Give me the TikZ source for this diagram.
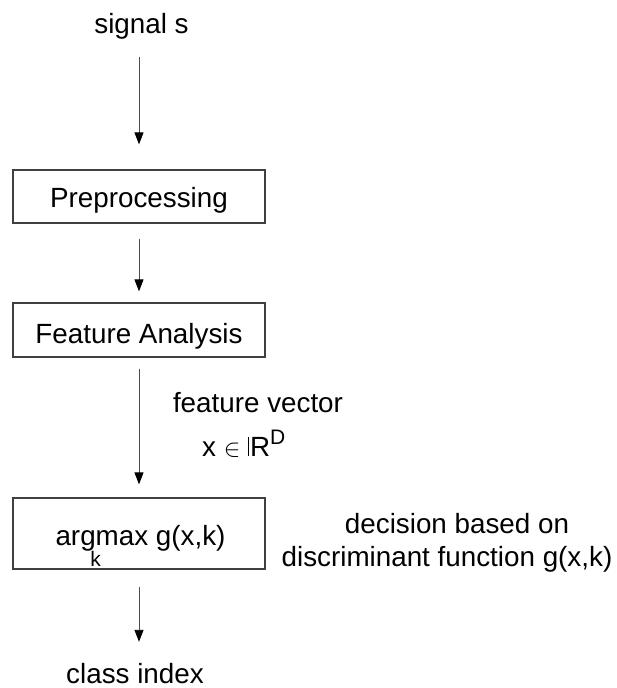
\documentclass[tikz,border=0pt]{standalone}
\usepackage{fontspec}
\setmainfont{Liberation Sans}
\usetikzlibrary{arrows.meta}
\begin{document}
\begin{tikzpicture}[x=1pt,y=-1pt,
  box/.style={draw=black!75, line width=1.2pt, minimum width=252pt, inner sep=0pt,
    font=\fontsize{27.8}{32}\selectfont},
  lbl/.style={inner sep=0pt, font=\fontsize{27.8}{32}\selectfont, anchor=base,
    text height=20pt, text depth=6pt},
  flow/.style={line width=0.9pt, draw=black!70,
    -{Triangle[length=12pt,width=9pt,fill=black,color=black]}}]
\useasboundingbox (0,0) rectangle (617,688);
% text nodes
\node[lbl] (sig) at (141.5,33) {signal s};
\node[lbl] (cls) at (135,683) {class index};
\node[lbl] (fv) at (258,412) {feature vector};
\node[lbl, anchor=base west] (xr) at (202,456)
  {x {\fontsize{27}{27}\selectfont$\in$} \vrule width 0.7pt height 19.5pt depth 0pt\kern1.2pt R\raisebox{12pt}{\fontsize{21}{21}\selectfont D}};
\node[lbl] (dec1) at (457,533) {decision based on};
\node[lbl] (dec2) at (447,566) {discriminant function g(x,k)};
% boxes
\node[box, minimum height=53pt, text height=24pt, text depth=3pt] (pre) at (139,196.5) {Preprocessing};
\node[box, minimum height=54pt, text height=28pt, text depth=2pt] (fa) at (139,330) {Feature Analysis};
\node[box, minimum height=71pt, text height=26pt, text depth=3pt] (am) at (139,533.5)
  {\kern3pt arg\makebox[0pt]{\raisebox{-21.5pt}{\fontsize{21}{21}\selectfont k}}max g(x,k)};
% connectors
\draw[flow, shorten <=18pt, shorten >=25pt] (pre.north |- sig.south) -- (pre.north);
\draw[flow, shorten <=15pt, shorten >=11pt] (pre.south) -- (fa.north);
\draw[flow, shorten <=11pt, shorten >=13pt] (fa.south) -- (am.north);
\draw[flow, shorten <=17pt, shorten >=21pt] (am.south) -- (am.south |- cls.north);
\end{tikzpicture}
\end{document}
